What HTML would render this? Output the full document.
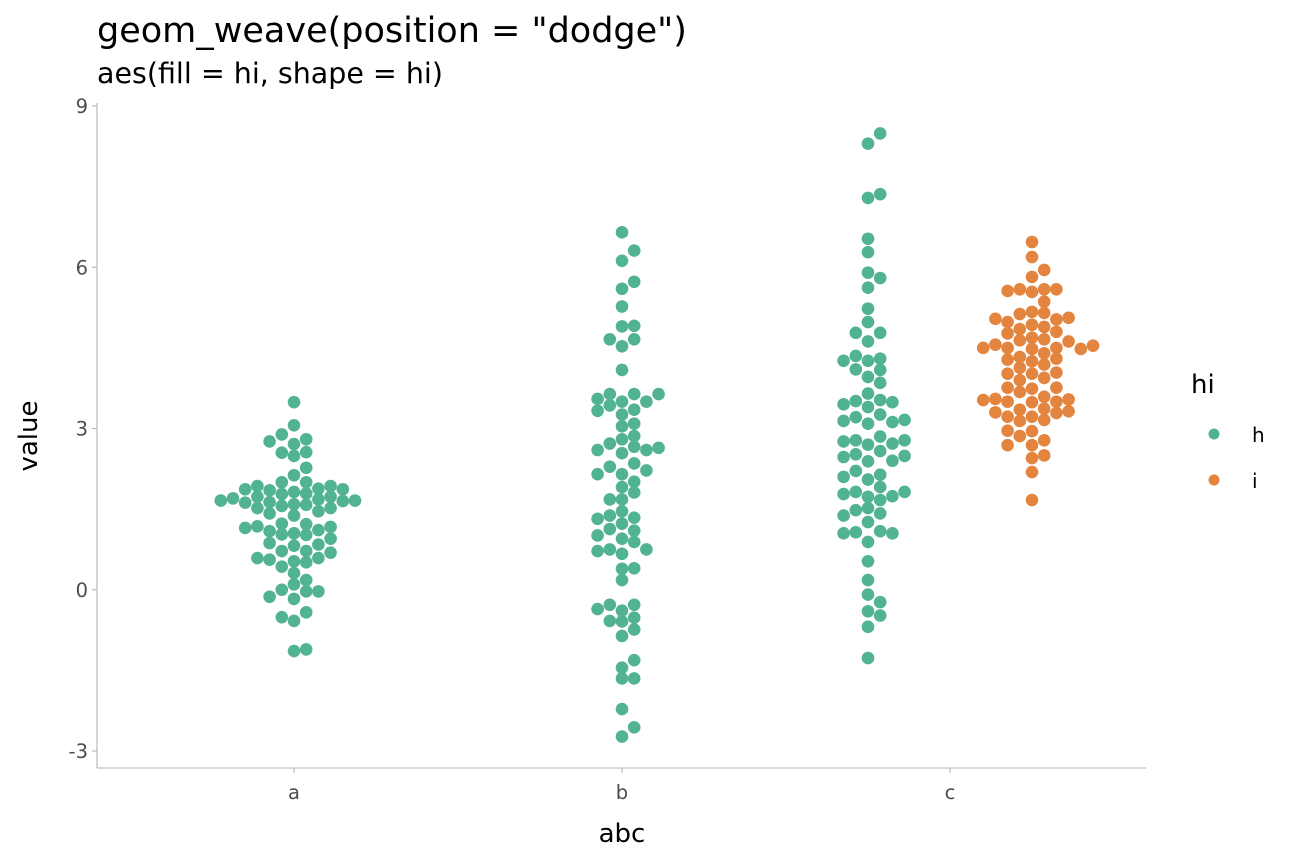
<!DOCTYPE html>
<html><head><meta charset="utf-8"><style>
html,body{margin:0;padding:0;background:#fff;}
svg{display:block;font-family:"DejaVu Sans","Liberation Sans",sans-serif;}
</style></head><body>
<svg id="chart" width="1296" height="864" viewBox="0 0 1296 864" xmlns="http://www.w3.org/2000/svg">
<rect width="1296" height="864" fill="#fff"/>
<text x="97" y="42" font-size="35" fill="#000">geom_weave(position = "dodge")</text>
<text x="97" y="83" font-size="28.5" fill="#000">aes(fill = hi, shape = hi)</text>
<g id="axes"></g>
<g id="points"></g>
<text x="622" y="842" font-size="26" text-anchor="middle" fill="#000">abc</text>
<text transform="translate(37,436) rotate(-90)" font-size="26" text-anchor="middle" fill="#000">value</text>
<g>
<text x="1191" y="393" font-size="26" fill="#000">hi</text>
<g><circle cx="1214" cy="434" r="5.5" fill="#52b394"/><text x="1252" y="442" font-size="20" fill="#000">h</text></g>
<g><circle cx="1214" cy="480" r="5.5" fill="#e3853f"/><text x="1252" y="488" font-size="20" fill="#000">i</text></g>
</g>
</svg>
<script>
const categories = ["a","b","c"];
const yTicks = [-3,0,3,6,9];
const yTickLabels = ["-3","0","3","6","9"];
const aVals = [3.49,3.06,2.89,2.76,2.80,2.71,2.55,2.56,2.49,2.27,2.13,2.00,2.00,1.93,1.87,1.85,1.78,1.82,1.79,1.88,1.93,1.87,1.66,1.70,1.62,1.73,1.63,1.56,1.59,1.58,1.68,1.73,1.65,1.66,1.52,1.42,1.38,1.46,1.52,1.15,1.18,1.23,1.22,1.09,1.03,1.05,1.02,1.11,1.17,0.95,0.87,0.82,0.84,0.72,0.72,0.69,0.59,0.56,0.53,0.51,0.59,0.43,0.31,0.10,0.18,0.00,-0.13,-0.17,-0.03,-0.03,-0.51,-0.58,-0.42,-1.14,-1.11];
const aCols = [0,0,-1,-2,1,0,-1,1,0,1,0,-1,1,-3,-4,-2,-1,0,1,2,3,4,-6,-5,-4,-3,-2,-1,0,1,2,3,4,5,-3,-2,0,2,3,-4,-3,-1,1,-2,-1,0,1,2,3,3,-2,0,2,-1,1,3,-3,-2,0,1,2,-1,0,0,1,-1,-2,0,1,2,-1,0,1,0,1];
const bVals = [6.65,6.31,6.12,5.73,5.60,5.27,4.90,4.91,4.66,4.66,4.53,4.09,3.64,3.64,3.64,3.55,3.50,3.50,3.33,3.43,3.35,3.26,3.04,3.09,2.86,2.80,2.60,2.72,2.66,2.60,2.64,2.54,2.15,2.29,2.35,2.22,2.15,2.01,1.91,1.81,1.68,1.68,1.46,1.32,1.38,1.34,1.23,1.13,1.10,1.01,0.95,0.89,0.72,0.75,0.67,0.75,0.39,0.40,0.18,-0.36,-0.28,-0.28,-0.39,-0.58,-0.59,-0.52,-0.74,-0.86,-1.31,-1.45,-1.65,-1.65,-2.22,-2.56,-2.73];
const bCols = [0,1,0,1,0,0,0,1,-1,1,0,0,-1,1,3,-2,0,2,-2,-1,1,0,0,1,1,0,-2,-1,1,2,3,0,-2,-1,1,2,0,1,0,1,-1,0,0,-2,-1,1,0,-1,1,-2,0,1,-2,-1,0,2,0,1,0,-2,-1,1,0,-1,0,1,1,0,1,0,0,1,0,1,0];
const chVals = [8.49,8.30,7.29,7.36,6.53,6.28,5.90,5.80,5.62,5.23,4.98,4.78,4.78,4.62,4.26,4.35,4.26,4.30,4.10,4.09,3.96,3.85,3.65,3.45,3.51,3.40,3.53,3.49,3.14,3.21,3.09,3.26,3.12,3.16,2.76,2.78,2.70,2.85,2.72,2.78,2.47,2.52,2.39,2.58,2.40,2.49,2.10,2.21,2.05,2.14,1.78,1.82,1.73,1.91,1.67,1.74,1.82,1.38,1.48,1.52,1.42,1.26,1.05,1.07,1.09,1.05,0.89,0.53,0.18,-0.09,-0.23,-0.40,-0.48,-0.69,-1.27];
const chCols = [1,0,0,1,0,0,0,1,0,0,0,-1,1,0,-2,-1,0,1,-1,1,0,1,0,-2,-1,0,1,2,-2,-1,0,1,2,3,-2,-1,0,1,2,3,-2,-1,0,1,2,3,-2,-1,0,1,-2,-1,0,1,1,2,3,-2,-1,0,1,0,-2,-1,1,2,0,0,0,0,1,0,1,0,0];
const ciVals = [6.47,6.19,5.95,5.82,5.56,5.59,5.54,5.59,5.59,5.36,5.13,5.17,5.15,5.04,4.98,5.03,5.06,4.85,4.93,4.89,4.80,4.77,4.64,4.69,4.66,4.62,4.50,4.56,4.50,4.48,4.50,4.48,4.54,4.33,4.40,4.28,4.25,4.30,4.13,4.19,4.02,4.02,4.04,3.90,3.94,3.76,3.74,3.76,3.68,3.53,3.55,3.50,3.59,3.50,3.54,3.49,3.30,3.35,3.37,3.29,3.32,3.22,3.22,3.14,3.16,2.96,2.95,2.86,2.69,2.69,2.78,2.45,2.50,2.19,1.67];
const ciCols = [0,0,1,0,-2,-1,0,1,2,1,-1,0,1,-3,-2,2,3,-1,0,1,2,-2,-1,0,1,3,-4,-3,-2,0,2,4,5,-1,1,-2,0,2,-1,1,-2,0,2,-1,1,-2,0,2,-1,-4,-3,-2,1,2,3,0,-3,-1,1,2,3,-2,0,-1,1,-2,0,-1,-2,0,1,0,1,0,0];

const NS = "http://www.w3.org/2000/svg";
const plot = {left:97, right:1146, top:103, bottom:768};
const yMin = -3, yMax = 9, yTopPx = 106, yBotPx = 751;
function yScale(v){ return yBotPx - (v - yMin) / (yMax - yMin) * (yBotPx - yTopPx); }
const catStep = 328, catStart = 294;
function xScale(cat){ return catStart + categories.indexOf(cat) * catStep; }
const dodgeOffset = 0.25 * catStep, colStep = 12.2;

function mk(tag, attrs, parent){ const e = document.createElementNS(NS, tag); for (const k in attrs) e.setAttribute(k, attrs[k]); parent.appendChild(e); return e; }
const axes = document.getElementById('axes');
const yl = mk('line', {x1:plot.left, y1:plot.top, x2:plot.left, y2:plot.bottom, stroke:'#b3b3b3', 'stroke-width':1.1}, axes);


const xl = mk('line', {x1:plot.left, y1:plot.bottom, x2:plot.right, y2:plot.bottom, stroke:'#b3b3b3', 'stroke-width':1.1}, axes);


yTicks.forEach((t, i) => {
  const y = yScale(t);
  const tk = mk('line', {x1:plot.left-5, y1:y, x2:plot.left, y2:y, stroke:'#b3b3b3', 'stroke-width':1.1}, axes);
  
  
  const tx = mk('text', {x:plot.left-9, y:y+7, 'font-size':19.5, 'text-anchor':'end', fill:'#4d4d4d'}, axes);
  tx.textContent = yTickLabels[i];
  
  
});
categories.forEach(c => {
  const x = xScale(c);
  const tk = mk('line', {x1:x, y1:plot.bottom, x2:x, y2:plot.bottom+5, stroke:'#b3b3b3', 'stroke-width':1.1}, axes);
  
  
  const tx = mk('text', {x:x, y:plot.bottom+31, 'font-size':19.5, 'text-anchor':'middle', fill:'#4d4d4d'}, axes);
  tx.textContent = c;
  
  
});
const pts = document.getElementById('points');
function drawGroup(cat, dodge, vals, cols, color, name){
  vals.forEach((v, i) => {
    const cx = xScale(cat) + dodge * dodgeOffset + cols[i] * colStep;
    const p = mk('circle', {cx:cx, cy:yScale(v), r:6.3, fill:color}, pts);
    
    
  });
}
drawGroup('a', 0, aVals, aCols, '#52b394', 'point-a-h');
drawGroup('b', 0, bVals, bCols, '#52b394', 'point-b-h');
drawGroup('c', -1, chVals, chCols, '#52b394', 'point-c-h');
drawGroup('c', 1, ciVals, ciCols, '#e3853f', 'point-c-i');
</script>
</body></html>
